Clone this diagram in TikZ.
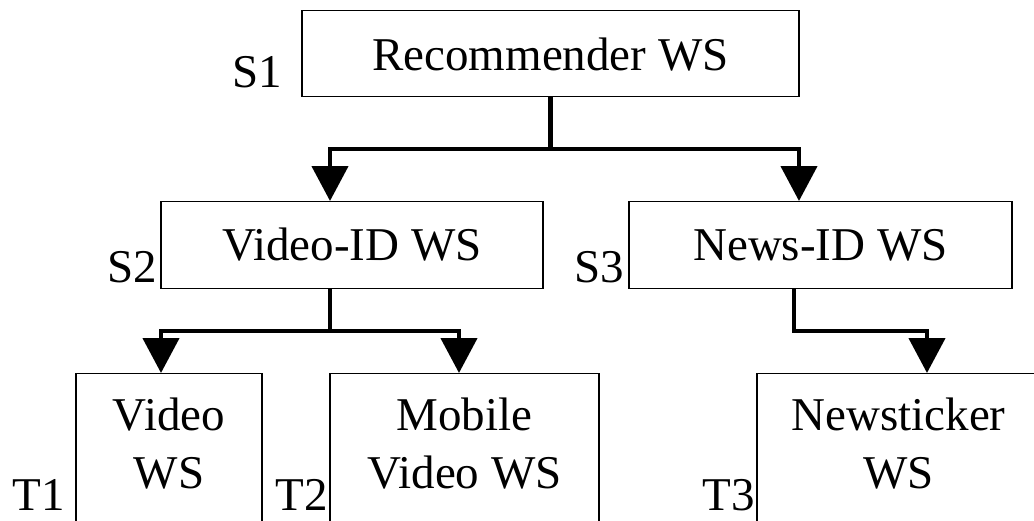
\documentclass[tikz,border=0pt]{standalone}
\usepackage{fontspec}
\setmainfont{LiberationSerif}[Extension=.ttf, UprightFont=*-Regular]
\usetikzlibrary{arrows.meta, positioning}

\begin{document}
\begin{tikzpicture}[
    x=1pt, y=-1pt,
    service/.style={draw, line width=1.2pt, inner sep=0pt, anchor=north,
                    font=\fontsize{47pt}{58pt}\selectfont},
    leaf/.style={service, text height=57pt, text depth=130pt},
    tag/.style={inner sep=0pt, anchor=base east,
                font=\fontsize{47pt}{58pt}\selectfont},
    link/.style={line width=4.5pt, -{Triangle[width=36pt, length=35pt]}}
]
    \useasboundingbox (0,0) rectangle (1034,520);
    \clip (0,0) rectangle (1034,520);

    % ==================== SERVICES ====================
    \node[service, minimum width=497pt, text height=60pt, text depth=26pt]
        (rec) at (550.5,10) {Recommender WS};
    \node[service, minimum width=382pt, text height=59pt, text depth=28pt]
        (vidid) at (352,201) {Video-ID WS};
    \node[service, minimum width=383pt, text height=59pt, text depth=28pt]
        (newsid) at (820.5,201) {News-ID WS};

    % ==================== TARGETS ====================
    \node[leaf, minimum width=186pt] (video) at (169,373)
        {\begin{tabular}[t]{@{}c@{}}Video\\WS\end{tabular}};
    \node[leaf, minimum width=269pt] (mobile) at (464.5,373)
        {\begin{tabular}[t]{@{}c@{}}Mobile\\Video WS\end{tabular}};
    \node[leaf, minimum width=283pt] (ticker) at (898.5,373)
        {\begin{tabular}[t]{@{}c@{}}Newsticker\\WS\end{tabular}};

    % ==================== TAGS ====================
    \node[tag] (s1) at (282,87) {S1};
    \node[tag] (s2) at (157,282) {S2};
    \node[tag] (s3) at (624,282) {S3};
    \node[tag] (t1) at (65,510) {T1};
    \node[tag] (t2) at (328,510) {T2};
    \node[tag] (t3) at (755,510) {T3};

    % ==================== LINKS ====================
    \coordinate (fork1) at ([yshift=-52pt]rec.south);
    \draw[link] (rec.south) -- (fork1) -| ([xshift=-22pt]vidid.north);
    \draw[link] (fork1) -| ([xshift=-21.5pt]newsid.north);

    \coordinate (fork2) at ([xshift=-22pt, yshift=-42pt]vidid.south);
    \draw[link] ([xshift=-22pt]vidid.south) -- (fork2) -| ([xshift=-8pt]video.north);
    \draw[link] (fork2) -| ([xshift=-5.5pt]mobile.north);

    \coordinate (fork3) at ([xshift=-26.5pt, yshift=-42pt]newsid.south);
    \draw[link] ([xshift=-26.5pt]newsid.south) -- (fork3) -| ([xshift=28.5pt]ticker.north);
\end{tikzpicture}
\end{document}
